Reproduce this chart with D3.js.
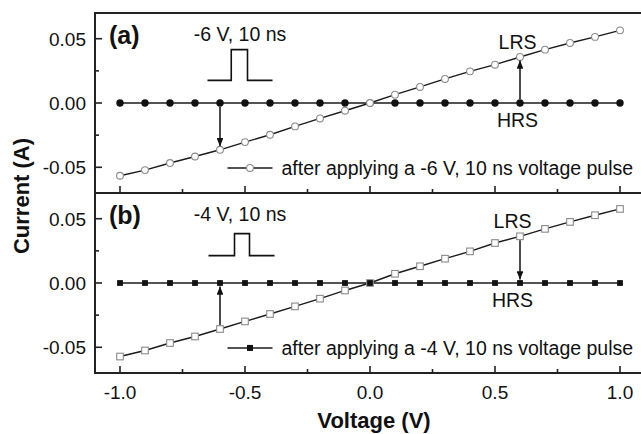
<!DOCTYPE html>
<html>
<head>
<meta charset="utf-8">
<script src="https://cdn.jsdelivr.net/npm/d3@7"></script>
<style>
  html, body { margin: 0; padding: 0; background: #fff; }
  svg { display: block; }
  text { font-family: Arial, "Liberation Sans", sans-serif; fill: #111; }
</style>
</head>
<body>
<svg id="chart" width="641" height="434"></svg>
<script>
// Bias sweep (V)
const voltage = [-1.0, -0.9, -0.8, -0.7, -0.6, -0.5, -0.4, -0.3, -0.2, -0.1, 0.0,
                 0.1, 0.2, 0.3, 0.4, 0.5, 0.6, 0.7, 0.8, 0.9, 1.0];
// Panel (a): -6 V, 10 ns pulse
const lrsA = [-0.0566, -0.0522, -0.0467, -0.0416, -0.0364, -0.0304, -0.0247, -0.0182, -0.0120, -0.0060, 0.0,
              0.0065, 0.0125, 0.0187, 0.0246, 0.0298, 0.0358, 0.0415, 0.0467, 0.0514, 0.0565];
const hrsA = [0, 0, 0, 0, 0, 0, 0, 0, 0, 0, 0, 0, 0, 0, 0, 0, 0, 0, 0, 0, 0];
// Panel (b): -4 V, 10 ns pulse
const lrsB = [-0.0572, -0.0525, -0.0467, -0.0416, -0.0358, -0.0299, -0.0241, -0.0182, -0.0122, -0.0058, 0.0,
              0.0072, 0.0130, 0.0189, 0.0246, 0.0311, 0.0363, 0.0421, 0.0475, 0.0527, 0.0576];
const hrsB = [0, 0, 0, 0, 0, 0, 0, 0, 0, 0, 0, 0, 0, 0, 0, 0, 0, 0, 0, 0, 0];

const xTicks = [-1.0, -0.5, 0.0, 0.5, 1.0];
const xMinor = [-0.75, -0.25, 0.25, 0.75];
const yTicks = [-0.05, 0.00, 0.05];
const yMinor = [-0.025, 0.025];

const panelLabels = ["(a)", "(b)"];
const pulseLabels = ["-6 V, 10 ns", "-4 V, 10 ns"];
const legendLabels = ["after applying a -6 V, 10 ns voltage pulse",
                      "after applying a -4 V, 10 ns voltage pulse"];
// Pulse sketch outlines in data units [V, A]
const pulseA = [[-0.65, 0.0176], [-0.555, 0.0176], [-0.555, 0.0415], [-0.49, 0.0415], [-0.49, 0.0176], [-0.39, 0.0176]];
const pulseB = [[-0.646, 0.0213], [-0.542, 0.0213], [-0.542, 0.0384], [-0.482, 0.0384], [-0.482, 0.0213], [-0.382, 0.0213]];
// Arrows: [voltage, from current, to current]
const arrowsA = [[-0.6, 0.0, -0.0364], [0.6, 0.0, 0.0358]];
const arrowsB = [[-0.6, -0.0358, 0.0], [0.6, 0.0363, 0.0]];

const svg = d3.select("#chart");
const left = 95, right = 645;
const panelTop = [13, 193];
const panelH = 180;

const x = d3.scaleLinear().domain([-1.1, 1.1]).range([left, right]);

const panels = [
  { lrs: lrsA, hrs: hrsA, marker: "circle", pulse: pulseA, arrows: arrowsA,
    lrsLabel: [0.59, 0.0475], hrsLabel: [0.59, -0.013] },
  { lrs: lrsB, hrs: hrsB, marker: "square", pulse: pulseB, arrows: arrowsB,
    lrsLabel: [0.57, 0.048], hrsLabel: [0.57, -0.0135] }
];

const lineColor = "#1a1a1a";
const openColor = "#8a8a8a";
const fs = 19.5;

svg.append("defs").append("marker")
  .attr("id", "head")
  .attr("viewBox", "0 0 10 10")
  .attr("refX", 10).attr("refY", 5)
  .attr("markerWidth", 5.5).attr("markerHeight", 4.5)
  .attr("markerUnits", "strokeWidth")
  .attr("orient", "auto")
  .attr("preserveAspectRatio", "none")
  .append("path").attr("d", "M0,0 L10,5 L0,10 Z").attr("fill", "#111");

panels.forEach((p, i) => {
  const top = panelTop[i];
  const y = d3.scaleLinear().domain([-0.07, 0.07]).range([top + panelH, top]);
  const g = svg.append("g");

  // ticks pointing inward
  const tickG = g.append("g").attr("stroke", "#222").attr("stroke-width", 1.6);
  xTicks.forEach(v => tickG.append("line")
    .attr("x1", x(v)).attr("x2", x(v)).attr("y1", top + panelH).attr("y2", top + panelH - 7));
  xMinor.forEach(v => tickG.append("line")
    .attr("x1", x(v)).attr("x2", x(v)).attr("y1", top + panelH).attr("y2", top + panelH - 4));
  yTicks.forEach(v => tickG.append("line")
    .attr("x1", left).attr("x2", left + 7).attr("y1", y(v)).attr("y2", y(v)));
  yMinor.forEach(v => tickG.append("line")
    .attr("x1", left).attr("x2", left + 4).attr("y1", y(v)).attr("y2", y(v)));

  // y tick labels
  g.selectAll(".ylab").data(yTicks).join("text")
    .attr("x", left - 9).attr("y", d => y(d))
    .attr("dy", "0.36em").attr("text-anchor", "end")
    .attr("font-size", 19)
    .text(d => d3.format(".2f")(d).replace("−", "-"));

  const line = d3.line().x((d, j) => x(voltage[j])).y(d => y(d));

  g.append("path").datum(p.hrs).attr("d", line)
    .attr("fill", "none").attr("stroke", lineColor).attr("stroke-width", 1.4);
  g.append("path").datum(p.lrs).attr("d", line)
    .attr("fill", "none").attr("stroke", lineColor).attr("stroke-width", 1.4);

  if (p.marker === "circle") {
    g.selectAll(".hrs").data(p.hrs).join("circle")
      .attr("cx", (d, j) => x(voltage[j])).attr("cy", d => y(d)).attr("r", 3.7)
      .attr("fill", "#111");
    g.selectAll(".lrs").data(p.lrs).join("circle")
      .attr("cx", (d, j) => x(voltage[j])).attr("cy", d => y(d)).attr("r", 3.4)
      .attr("fill", "#fff").attr("stroke", openColor).attr("stroke-width", 1.1);
  } else {
    g.selectAll(".lrs").data(p.lrs).join("rect")
      .attr("x", (d, j) => x(voltage[j]) - 3.3).attr("y", d => y(d) - 3.3)
      .attr("width", 6.6).attr("height", 6.6)
      .attr("fill", "#fff").attr("stroke", openColor).attr("stroke-width", 1.1);
    g.selectAll(".hrs").data(p.hrs).join("rect")
      .attr("x", (d, j) => x(voltage[j]) - 2.9).attr("y", d => y(d) - 2.9)
      .attr("width", 5.8).attr("height", 5.8)
      .attr("fill", "#111");
  }

  // switching arrows
  p.arrows.forEach(([v, from, to]) => {
    const dir = Math.sign(y(to) - y(from));
    g.append("line")
      .attr("x1", x(v)).attr("x2", x(v))
      .attr("y1", y(from) + dir * 4).attr("y2", y(to) - dir * 3.5)
      .attr("stroke", "#111").attr("stroke-width", 1.5)
      .attr("marker-end", "url(#head)");
  });

  // state labels
  g.append("text").attr("x", x(p.lrsLabel[0])).attr("y", y(p.lrsLabel[1]))
    .attr("dy", "0.36em").attr("text-anchor", "middle").attr("font-size", fs).text("LRS");
  g.append("text").attr("x", x(p.hrsLabel[0])).attr("y", y(p.hrsLabel[1]))
    .attr("dy", "0.36em").attr("text-anchor", "middle").attr("font-size", fs).text("HRS");

  // pulse sketch
  g.append("path").datum(p.pulse)
    .attr("d", d3.line().x(d => x(d[0])).y(d => y(d[1])))
    .attr("fill", "none").attr("stroke", "#111").attr("stroke-width", 1.6);
  g.append("text").attr("x", x(-0.52)).attr("y", y(0.0535))
    .attr("dy", "0.36em").attr("text-anchor", "middle").attr("font-size", fs)
    .text(pulseLabels[i]);

  // panel label
  g.append("text").attr("x", left + 14).attr("y", top + 22)
    .attr("dy", "0.36em").attr("font-size", 25).attr("font-weight", "bold")
    .text(panelLabels[i]);

  // legend
  const ly = y(-0.0505);
  const lx0 = x(-0.57), lx1 = x(-0.39);
  g.append("line").attr("x1", lx0).attr("x2", lx1).attr("y1", ly).attr("y2", ly)
    .attr("stroke", lineColor).attr("stroke-width", 1.4);
  const lmx = (lx0 + lx1) / 2;
  if (p.marker === "circle") {
    g.append("circle").attr("cx", lmx).attr("cy", ly).attr("r", 3.4)
      .attr("fill", "#fff").attr("stroke", openColor).attr("stroke-width", 1.1);
  } else {
    g.append("rect").attr("x", lmx - 3).attr("y", ly - 3).attr("width", 6).attr("height", 6)
      .attr("fill", "#111");
  }
  g.append("text").attr("x", lx1 + 9).attr("y", ly)
    .attr("dy", "0.36em").attr("font-size", fs)
    .text(legendLabels[i]);

  // frame
  g.append("rect").attr("x", left).attr("y", top)
    .attr("width", right - left).attr("height", panelH)
    .attr("fill", "none").attr("stroke", "#222").attr("stroke-width", 2);
});

// x tick labels
svg.selectAll(".xlab").data(xTicks).join("text")
  .attr("x", d => x(d)).attr("y", panelTop[1] + panelH + 19)
  .attr("dy", "0.36em").attr("text-anchor", "middle").attr("font-size", 19)
  .text(d => d3.format(".1f")(d).replace("−", "-"));

// axis titles
svg.append("text").attr("x", 374).attr("y", 420)
  .attr("dy", "0.36em").attr("text-anchor", "middle")
  .attr("font-size", 22).attr("font-weight", "bold").text("Voltage (V)");
svg.append("text")
  .attr("transform", "translate(21,196) rotate(-90)")
  .attr("dy", "0.36em").attr("text-anchor", "middle")
  .attr("font-size", 22).attr("font-weight", "bold").text("Current (A)");
</script>
</body>
</html>
